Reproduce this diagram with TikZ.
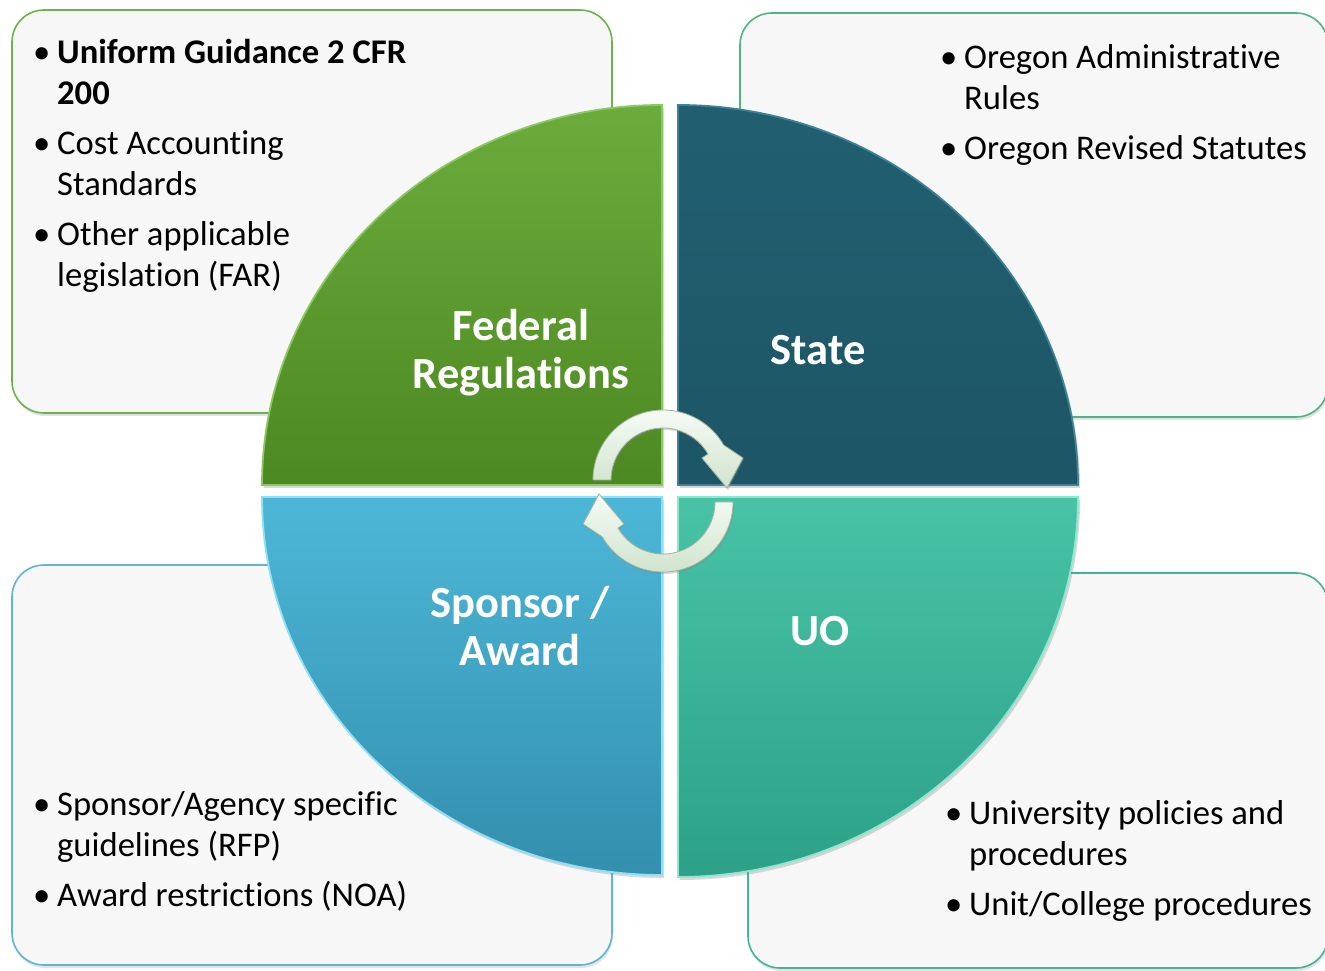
\documentclass[tikz,border=0pt]{standalone}
\usepackage{fontspec}
\setmainfont{Carlito}[Ligatures=NoCommon]
\usetikzlibrary{shadows}
\definecolor{boxfill}{HTML}{F7F7F7}
\definecolor{bordA}{HTML}{6FB24C}
\definecolor{bordB}{HTML}{4DB582}
\definecolor{bordC}{HTML}{5DB6D6}
\definecolor{bordD}{HTML}{3FB39B}
\definecolor{fedTop}{HTML}{6CAC3C}
\definecolor{fedBot}{HTML}{4C8922}
\definecolor{fedEdge}{HTML}{8CC864}
\definecolor{staTop}{HTML}{215F70}
\definecolor{staBot}{HTML}{1D5666}
\definecolor{staEdge}{HTML}{3E8296}
\definecolor{spoTop}{HTML}{4DB7D8}
\definecolor{spoBot}{HTML}{338FAD}
\definecolor{spoEdge}{HTML}{8EE0F5}
\definecolor{uoTop}{HTML}{48C3A6}
\definecolor{uoBot}{HTML}{2CA187}
\definecolor{uoEdge}{HTML}{8AE8CF}
\definecolor{arrTop}{HTML}{F6FBF5}
\definecolor{arrBot}{HTML}{D0E4CD}
\definecolor{arrEdge}{HTML}{9FB59D}
\newcommand\bl{\makebox[21pt][l]{\hspace{-3pt}•}}
\newcommand\ind{\hspace*{21pt}}
\tikzset{
  infobox/.style={fill=boxfill, line width=1.6pt, rounded corners=32pt,
    drop shadow={opacity=0.22, shadow xshift=1pt, shadow yshift=-3pt}},
  quad/.style={line width=1.8pt, drop shadow={opacity=0.3, shadow xshift=2pt, shadow yshift=-3pt}},
  bullets/.style={anchor=north west, align=left, inner sep=0pt,
    font=\fontsize{34.6}{41.5}\selectfont, text=black},
  title/.style={text=white, font=\bfseries\fontsize{44.5}{48}\selectfont,
    align=center, inner sep=0pt},
  cyclearrow/.style={top color=arrTop, bottom color=arrBot, draw=arrEdge,
    line width=0.8pt, drop shadow={opacity=0.3, shadow xshift=1pt, shadow yshift=-2pt}}
}
\begin{document}
\begin{tikzpicture}[x=1pt,y=1pt]
\useasboundingbox (0,0) rectangle (1325,970);
\fill[white] (0,0) rectangle (1325,970);

% background boxes
\draw[infobox, draw=bordA] (12,557) rectangle (612,960);
\draw[infobox, draw=bordB] (740,553) rectangle (1328,957);
\draw[infobox, draw=bordC] (12,5) rectangle (612,405);
\draw[infobox, draw=bordD] (748,2) rectangle (1328,397);

% quadrants
\draw[quad, draw=fedEdge, top color=fedTop, bottom color=fedBot]
  (662,485) -- (262,485) arc[start angle=180, end angle=90, x radius=400, y radius=380] -- cycle;
\draw[quad, draw=staEdge, top color=staTop, bottom color=staBot]
  (678,485) -- (678,865) arc[start angle=90, end angle=0, x radius=400, y radius=380] -- cycle;
\draw[quad, draw=spoEdge, top color=spoTop, bottom color=spoBot]
  (662,473) -- (262,473) arc[start angle=180, end angle=270, x radius=400, y radius=378] -- cycle;
\draw[quad, draw=uoEdge, top color=uoTop, bottom color=uoBot]
  (678,473) -- (1078,473) arc[start angle=0, end angle=-90, x radius=400, y radius=380] -- cycle;

% cycle arrows
\begin{scope}[shift={(663,490)}]
  \draw[cyclearrow] (180:70) arc[start angle=180, end angle=30, radius=70]
    -- (80,22) -- (64,-8) -- (39,22) -- (30:52)
    arc[start angle=30, end angle=180, radius=52] -- cycle;
\end{scope}
\begin{scope}[shift={(663,468)}, rotate=180]
  \draw[cyclearrow] (180:70) arc[start angle=180, end angle=30, radius=70]
    -- (80,22) -- (64,-8) -- (39,22) -- (30:52)
    arc[start angle=30, end angle=180, radius=52] -- cycle;
\end{scope}

% titles
\node[title, anchor=north] (fed) at (521,664) {\rule{0pt}{34pt}Federal\\Regulations};
\node[title, anchor=base] (state) at (818,605) {State};
\node[title, anchor=north] (spon) at (520,387) {\rule{0pt}{34pt}Sponsor /\\Award};
\node[title, anchor=base] (uo) at (820,324) {UO};

% bullet texts
\node[bullets] (fedlist) at (36,937) {\rule{0pt}{30pt}\bl\textbf{Uniform Guidance 2 CFR}\\
  \ind\textbf{200}\\[8pt]
  \bl Cost Accounting\\
  \ind Standards\\[8pt]
  \bl Other applicable\\
  \ind legislation (FAR)};
\node[bullets] (statelist) at (943,932) {\rule{0pt}{30pt}\bl Oregon Administrative\\
  \ind Rules\\[8pt]
  \bl Oregon Revised Statutes};
\node[bullets] (sponlist) at (36,185) {\rule{0pt}{30pt}\bl Sponsor/Agency specific\\
  \ind guidelines (RFP)\\[8pt]
  \bl Award restrictions (NOA)};
\node[bullets] (uolist) at (948,176) {\rule{0pt}{30pt}\bl University policies and\\
  \ind procedures\\[8pt]
  \bl Unit/College procedures};
\end{tikzpicture}
\end{document}
